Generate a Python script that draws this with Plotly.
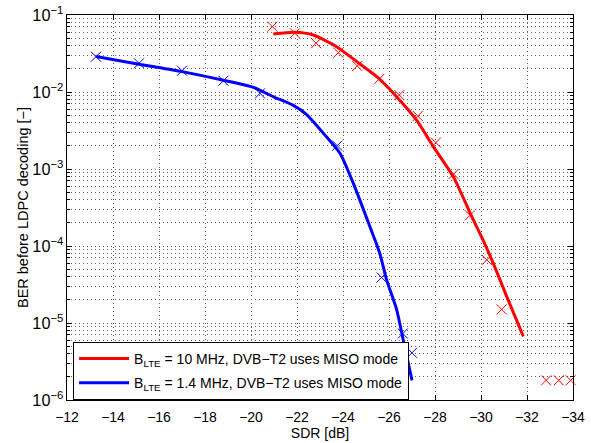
import plotly.graph_objects as go

# ---- data ----
red_x = [-20.93, -21.91, -22.83, -23.8, -24.62, -25.58, -26.45, -27.25, -28.04,
         -28.81, -29.52, -30.25, -30.9, -32.83, -33.38, -33.9]
red_y = [0.0705, 0.0578, 0.043, 0.0324, 0.0218, 0.0148, 0.00914, 0.00488, 0.0022,
         8.6e-4, 2.5e-4, 6.6e-5, 1.5e-5, 1.8e-6, 1.8e-6, 1.8e-6]

red_fit_x = [-20.97, -21.91, -22.71, -23.72, -24.6, -25.47, -26.33, -27.2, -27.93,
             -28.8, -29.6, -30.03, -30.53, -31.12, -31.84]
red_fit_y = [0.0567, 0.0596, 0.055, 0.0388, 0.0248, 0.0158, 0.0087, 0.0043, 0.00195,
             7.9e-4, 2.4e-4, 1.3e-4, 6e-5, 2.2e-5, 6.7e-6]

blue_x = [-13.26, -15.13, -17.0, -18.8, -20.39, -23.75, -25.68, -26.6, -27.0]
blue_y = [0.0288, 0.0236, 0.0189, 0.014, 0.0096, 0.00201, 3.9e-5, 7.3e-6, 4.1e-6]

blue_fit_x = [-13.26, -15.13, -17.0, -18.8, -20.1, -21.0, -21.84, -22.42, -23.29,
              -23.87, -24.45, -25.03, -25.6, -25.9, -26.33, -26.62, -27.0]
blue_fit_y = [0.029, 0.0229, 0.0184, 0.0142, 0.0115, 0.0086, 0.0067, 0.0051, 0.0026,
              0.0016, 6.5e-4, 2.3e-4, 8e-5, 3.6e-5, 1.5e-5, 6e-6, 1.8e-6]

x_ticks = [-12, -14, -16, -18, -20, -22, -24, -26, -28, -30, -32, -34]

label_red = "B<sub>LTE</sub> = 10 MHz, DVB\u2212T2 uses MISO mode"
label_blue = "B<sub>LTE</sub> = 1.4 MHz, DVB\u2212T2 uses MISO mode"

RED = "#ff0000"
BLUE = "#0000ff"
FONT = "Liberation Sans"
GRIDC = "#606060"
GRIDDASH = "1px,3px"

fig = go.Figure()

fig.add_trace(go.Scatter(x=red_fit_x, y=red_fit_y, mode="lines", name=label_red,
                         line=dict(color=RED, width=3, shape="spline", smoothing=0.6),
                         legendgroup="r"))
fig.add_trace(go.Scatter(x=blue_fit_x, y=blue_fit_y, mode="lines", name=label_blue,
                         line=dict(color=BLUE, width=3, shape="spline", smoothing=0.6),
                         legendgroup="b"))
fig.add_trace(go.Scatter(x=red_x, y=red_y, mode="markers", showlegend=False,
                         cliponaxis=False,
                         marker=dict(symbol="x-thin", size=10,
                                     line=dict(color=RED, width=1))))
fig.add_trace(go.Scatter(x=blue_x, y=blue_y, mode="markers", showlegend=False,
                         cliponaxis=False,
                         marker=dict(symbol="x-thin", size=10,
                                     line=dict(color=BLUE, width=1))))

fig.update_xaxes(range=[-12, -34], tickvals=x_ticks, automargin=False,
                 showline=True, linecolor="black", linewidth=1, mirror="ticks",
                 ticks="inside", ticklen=5, tickcolor="black",
                 ticklabelstandoff=4,
                 showgrid=True, zeroline=False,
                 gridcolor=GRIDC, griddash=GRIDDASH, gridwidth=1,
                 title=dict(text="SDR [dB]", font=dict(family=FONT, size=14, color="black"),
                            standoff=3),
                 tickfont=dict(family=FONT, size=14, color="black"))

fig.update_yaxes(type="log", range=[-6, -1], dtick=1, exponentformat="power",
                 automargin=False, ticklabeloverflow="allow",
                 showline=True, linecolor="black", linewidth=1, mirror="ticks",
                 ticks="inside", ticklen=5, tickcolor="black",
                 showgrid=True, zeroline=False,
                 gridcolor=GRIDC, griddash=GRIDDASH, gridwidth=1,
                 minor=dict(dtick="D1", ticks="inside", ticklen=3, tickcolor="black",
                            showgrid=True, gridcolor=GRIDC, griddash=GRIDDASH),
                 title=dict(text="BER before LDPC decoding [\u2212]",
                            font=dict(family=FONT, size=14.5, color="black"), standoff=0),
                 tickfont=dict(family=FONT, size=13, color="black"))

fig.update_layout(
    width=591, height=443,
    margin=dict(l=67, r=18, t=15, b=43),
    paper_bgcolor="white", plot_bgcolor="white",
    font=dict(family=FONT, size=14, color="black"),
    showlegend=True,
    hovermode=False,
    legend=dict(x=0.012, y=0.0, xanchor="left", yanchor="bottom",
                bgcolor="white", bordercolor="black", borderwidth=1,
                font=dict(family=FONT, size=14, color="black"),
                traceorder="grouped", tracegroupgap=3, itemwidth=50,
                entrywidth=338, entrywidthmode="pixels"),
)

# remove the default page margin so the figure sits at the window's corner
fig.write_html("out.html", config={"displayModeBar": False},
               post_script="document.body.style.margin='0';")
